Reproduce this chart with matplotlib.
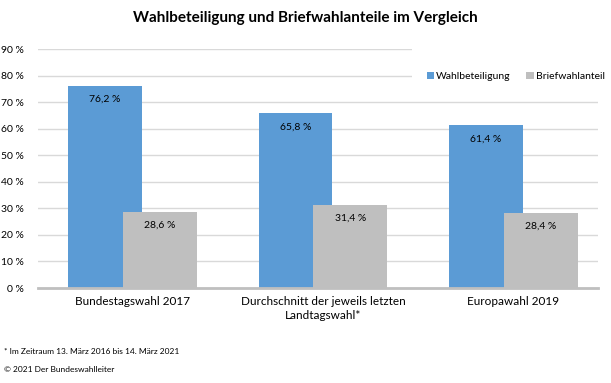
import matplotlib
matplotlib.use("Agg")
from matplotlib import pyplot as plt
from matplotlib.patches import Rectangle
import numpy as np

categories = ["Bundestagswahl 2017", "Durchschnitt der jeweils letzten\nLandtagswahl*", "Europawahl 2019"]
wahlbeteiligung = [76.2, 65.8, 61.4]
briefwahlanteil = [28.6, 31.4, 28.4]
yticks = [0, 10, 20, 30, 40, 50, 60, 70, 80, 90]

blue = "#5b9bd5"
grey = "#bfbfbf"

plt.rcParams['font.family'] = ['Lato', 'DejaVu Sans']

def fmt(v):
    return f"{v:.1f}".replace(".", ",") + " %"

def run():
    fig = plt.figure(figsize=(6.11, 3.83), dpi=100)
    ax = fig.add_axes([0.0622, 0.248, 0.9165, 0.624])

    x = np.arange(len(categories))
    w = 0.388
    off = 0.144
    ax.bar(x - off, wahlbeteiligung, w, color=blue, label="Wahlbeteiligung", zorder=2)
    ax.bar(x + off, briefwahlanteil, w, color=grey, label="Briefwahlanteil", zorder=3)

    for xi, v in zip(x, wahlbeteiligung):
        ax.annotate(fmt(v), (xi - off, v), xytext=(0, -10), textcoords="offset points",
                    ha="center", va="center", fontsize=7.5, color="black", zorder=4)
    for xi, v in zip(x, briefwahlanteil):
        ax.annotate(fmt(v), (xi + off, v), xytext=(0, -9.5), textcoords="offset points",
                    ha="center", va="center", fontsize=7.5, color="black", zorder=4)

    ax.set_xlim(-0.496, 2.444)
    ax.set_ylim(0, 90)
    ax.set_yticks(yticks)
    ax.set_yticklabels([f"{t} %" for t in yticks], fontsize=7.5)
    ax.yaxis.grid(True, color="#d9d9d9", linewidth=1, zorder=0)
    ax.set_axisbelow(True)
    ax.tick_params(axis="y", length=0, pad=10)
    ax.tick_params(axis="x", length=0, pad=6)
    ax.set_xticks(x)
    ax.set_xticklabels(categories, fontsize=8.5, linespacing=1.3)
    for s in ["top", "right", "left"]:
        ax.spines[s].set_visible(False)
    ax.spines["bottom"].set_color(grey)
    ax.spines["bottom"].set_linewidth(2)
    ax.spines["bottom"].set_zorder(5)

    # white legend area hides the upper gridlines on the right
    ax.add_patch(Rectangle((0.674, 0.744), 0.33, 0.141, transform=fig.transFigure,
                           facecolor="white", edgecolor="none", zorder=1, clip_on=False))

    ax.legend(loc="upper right", bbox_to_anchor=(1.027, 0.938), ncol=2, frameon=False,
              fontsize=7.5, handlelength=0.7, handleheight=0.7, handletextpad=0.2,
              columnspacing=1.5, borderpad=0.3)

    fig.text(0.5, 0.953, "Wahlbeteiligung und Briefwahlanteile im Vergleich",
             ha="center", va="center", fontsize=11, fontweight="bold")
    fig.text(0.007, 0.081, "* Im Zeitraum 13. März 2016 bis 14. März 2021",
             ha="left", va="center", fontsize=6)
    fig.text(0.007, 0.034, "© 2021 Der Bundeswahlleiter",
             ha="left", va="center", fontsize=6)

    fig.savefig("out.png", dpi=100)

if __name__ == "__main__":
    run()
